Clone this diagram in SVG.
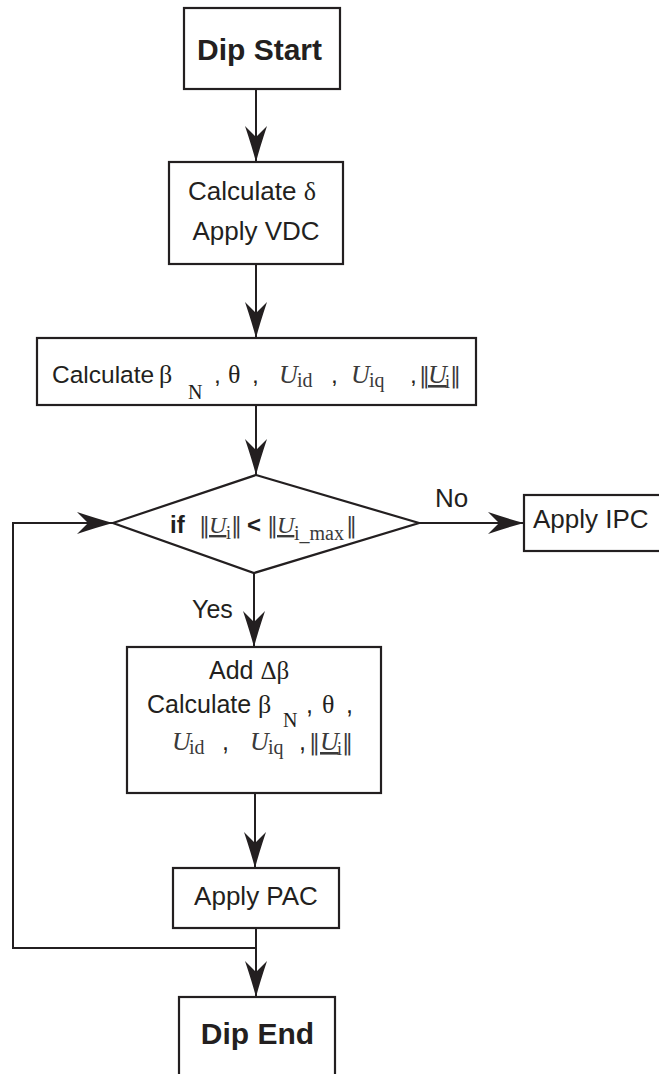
<svg xmlns="http://www.w3.org/2000/svg" width="659" height="1074" viewBox="0 0 659 1074">
<style>
  .box{fill:#fff;stroke:#231f20;stroke-width:2.2}
  .ln{fill:none;stroke:#231f20;stroke-width:2}
  .t{font-family:"Liberation Sans",Arial,sans-serif;fill:#231f20}
  .b{font-weight:bold}
  .g{font-family:"Liberation Serif","Times New Roman",serif;fill:#231f20}
  .m{font-family:"Liberation Serif","DejaVu Serif","Times New Roman",serif;fill:#3a3a3a}
  .n{font-family:"DejaVu Serif",serif;fill:#3a3a3a;font-size:22px}
  .i{font-style:italic}
  .u{text-decoration:underline}
</style>
<defs>
  <marker id="ah" viewBox="-38 -13 40 26" markerWidth="40" markerHeight="26" refX="0" refY="0" orient="auto" markerUnits="userSpaceOnUse">
    <path d="M0,0 Q-15,-4 -36,-11 L-25,0 L-36,11 Q-15,4 0,0 Z" fill="#231f20"/>
  </marker>
</defs>
<rect width="659" height="1074" fill="#fff"/>

<g id="connectors">
  <path class="ln" d="M256,89 V162" marker-end="url(#ah)"/>
  <path class="ln" d="M256,264 V338" marker-end="url(#ah)"/>
  <path class="ln" d="M256,405 V475" marker-end="url(#ah)"/>
  <path class="ln" d="M419,523 H524" marker-end="url(#ah)"/>
  <path class="ln" d="M254,573 V647" marker-end="url(#ah)"/>
  <path class="ln" d="M255,793 V868" marker-end="url(#ah)"/>
  <path class="ln" d="M256,928 V997" marker-end="url(#ah)"/>
  <path class="ln" d="M256,948 H13 V523 H113" marker-end="url(#ah)"/>
  <text class="t" x="435" y="507" font-size="26">No</text>
  <text class="t" x="192" y="618" font-size="25">Yes</text>
</g>

<g id="dip-start">
  <rect class="box" x="184" y="8" width="156" height="81"/>
  <text class="t b" x="259.5" y="60" font-size="30" text-anchor="middle">Dip Start</text>
</g>

<g id="calc-delta">
  <rect class="box" x="169" y="162" width="174" height="102"/>
  <text class="t" x="188" y="200" font-size="26">Calculate <tspan class="g">δ</tspan></text>
  <text class="t" x="256" y="240" font-size="26" text-anchor="middle">Apply VDC</text>
</g>

<g id="calc-beta">
  <rect class="box" x="37" y="338" width="439" height="67"/>
  <text class="t" x="52" y="383" font-size="24.5">Calculate</text>
  <text class="g" x="159" y="383" font-size="26">β</text>
  <text class="g" x="188" y="399" font-size="20">N</text>
  <text class="t" x="214" y="383" font-size="24.5">,</text>
  <text class="g" x="228" y="383" font-size="26">θ</text>
  <text class="t" x="252" y="383" font-size="24.5">,</text>
  <text class="m i" x="279" y="383" font-size="26">U</text>
  <text class="m" x="297" y="387" font-size="20">id</text>
  <text class="t" x="331" y="383" font-size="24.5">,</text>
  <text class="m i" x="351" y="383" font-size="26">U</text>
  <text class="m" x="369" y="387" font-size="20">iq</text>
  <text class="t" x="410" y="383" font-size="24.5">,</text>
  <text class="n" x="419" y="383">‖</text>
  <text class="m i u" x="428" y="383" font-size="26">U</text>
  <text class="m" x="445" y="388" font-size="18">i</text>
  <text class="n" x="450" y="383">‖</text>
</g>

<g id="decision">
  <polygon class="box" points="256,475 419,523 254,573 113,523"/>
  <text class="t b" x="170" y="533" font-size="24">if</text>
  <text class="n" x="199" y="533" font-size="20">‖</text>
  <text class="m i u" x="209" y="533" font-size="24">U</text>
  <text class="m" x="226" y="539" font-size="18">i</text>
  <text class="n" x="231" y="533" font-size="20">‖</text>
  <text class="t b" x="247" y="533" font-size="24">&lt;</text>
  <text class="n" x="267" y="533" font-size="20">‖</text>
  <text class="m i u" x="277" y="533" font-size="24">U</text>
  <text class="m" x="294" y="540" font-size="20">i_max</text>
  <text class="n" x="346" y="533" font-size="20">‖</text>
</g>

<g id="apply-ipc">
  <rect class="box" x="524" y="495" width="140" height="56"/>
  <text class="t" x="533" y="528" font-size="26">Apply IPC</text>
</g>

<g id="add-dbeta">
  <rect class="box" x="127" y="647" width="254" height="146"/>
  <text class="t" x="209" y="679" font-size="25">Add <tspan class="g">Δβ</tspan></text>
  <text class="t" x="147" y="713" font-size="25">Calculate</text>
  <text class="g" x="258" y="713" font-size="26">β</text>
  <text class="g" x="283" y="727" font-size="20">N</text>
  <text class="t" x="306" y="713" font-size="25">,</text>
  <text class="g" x="322" y="713" font-size="26">θ</text>
  <text class="t" x="346" y="713" font-size="25">,</text>
  <text class="m i" x="172" y="750" font-size="26">U</text>
  <text class="m" x="189" y="754" font-size="20">id</text>
  <text class="t" x="222" y="750" font-size="25">,</text>
  <text class="m i" x="250" y="750" font-size="26">U</text>
  <text class="m" x="268" y="754" font-size="20">iq</text>
  <text class="t" x="299" y="750" font-size="25">,</text>
  <text class="n" x="309" y="750">‖</text>
  <text class="m i u" x="320" y="750" font-size="26">U</text>
  <text class="m" x="337" y="755" font-size="18">i</text>
  <text class="n" x="342" y="750">‖</text>
</g>

<g id="apply-pac">
  <rect class="box" x="173" y="868" width="166" height="60"/>
  <text class="t" x="256" y="905" font-size="26" text-anchor="middle">Apply PAC</text>
</g>

<g id="dip-end">
  <rect class="box" x="179" y="997" width="156" height="90"/>
  <text class="t b" x="257.5" y="1044" font-size="30" text-anchor="middle">Dip End</text>
</g>
</svg>
